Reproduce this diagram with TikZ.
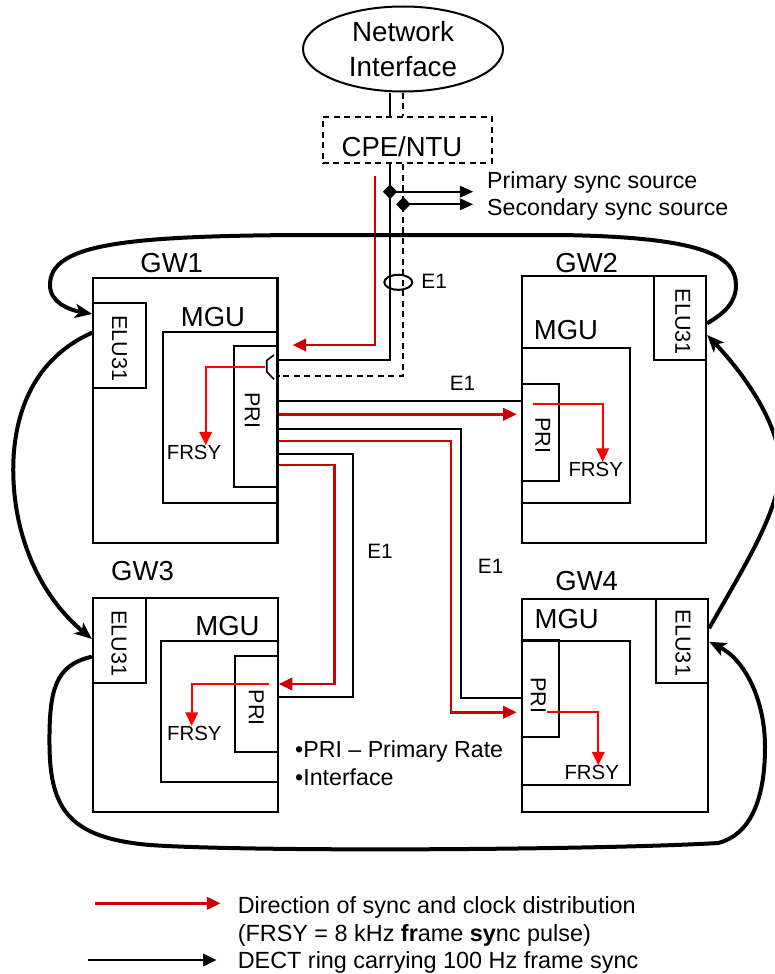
\documentclass[tikz,border=0pt]{standalone}
\usepackage{fontspec}
\setmainfont{Liberation Sans}
\usetikzlibrary{arrows.meta,shapes.geometric,fit}
\definecolor{darkred}{RGB}{204,0,0}
\definecolor{brightred}{RGB}{255,0,0}
\begin{document}
\begin{tikzpicture}[x=1pt,y=-1pt,
  box/.style={draw, line width=2.2pt, inner sep=0pt},
  lab/.style={inner sep=0pt, font=\fontsize{27.5}{35}\selectfont},
  rot/.style={inner sep=0pt, font=\fontsize{21.6}{26}\selectfont, rotate=-90},
  frsy/.style={inner sep=0pt, font=\fontsize{20.4}{24}\selectfont},
  elab/.style={inner sep=0pt, font=\fontsize{20.8}{24}\selectfont},
  note/.style={inner sep=0pt, anchor=base west, font=\fontsize{23.2}{27.6}\selectfont},
  conn/.style={line width=2pt},
  dsh/.style={dash pattern=on 6pt off 4.5pt},
  tri/.style={-{Triangle[length=13.5pt,width=12.5pt]}},
  redc/.style={line width=2.4pt, draw=darkred, tri},
  redi/.style={line width=2.2pt, draw=brightred, tri},
  ring/.style={line width=4pt, -{Stealth[length=17pt,width=14pt,inset=4pt]}},
  dmd/.style={diamond, fill=black, inner sep=0pt, minimum width=14.5pt, minimum height=15pt}
]
\useasboundingbox (0,0) rectangle (774,974);
\fill[white] (0,0) rectangle (774,974);
\clip (0,0) rectangle (774,974);

% ---------- top part ----------
\node[draw, ellipse, line width=2pt, inner sep=0pt, minimum width=200pt, minimum height=85pt,
      align=center, font=\fontsize{27.8}{35}\selectfont] (ni) at (403,49) {Network\\Interface};
\node[draw, dsh, line width=2pt, inner sep=0pt, fit={(322.7,117)(491.7,163.3)}] (cpe) {};
\node[lab] (cpetxt) at (402,146.7) {CPE/NTU};

% ---------- boxes ----------
\node[box, fit={(93.3,277.7)(277.5,543.3)}] (gw1) {};
\node[box, fit={(93.3,303.3)(145.7,387.7)}] (elu1) {};
\node[box, fit={(162.7,331.7)(277.5,503.3)}] (mgu1) {};
\node[box, fit={(234.3,345.7)(277.5,486.7)}] (pri1) {};

\node[box, fit={(521.7,275.7)(706,543.3)}] (gw2) {};
\node[box, fit={(653.7,275.7)(706,360)}] (elu2) {};
\node[box, fit={(521.7,347.7)(630,503.3)}] (mgu2) {};
\node[box, fit={(521.7,384.3)(559.3,481)}] (pri2) {};

\node[box, fit={(93,598.3)(277.7,811.7)}] (gw3) {};
\node[box, fit={(93,598.3)(146,682.7)}] (elu3) {};
\node[box, fit={(161,641)(277.7,782.3)}] (mgu3) {};
\node[box, fit={(235,656)(277.7,752.3)}] (pri3) {};

\node[box, fit={(522.3,599)(708,811.7)}] (gw4) {};
\node[box, fit={(656,599)(708,683.3)}] (elu4) {};
\node[box, fit={(522.3,640.7)(630,785)}] (mgu4) {};
\node[box, fit={(522.3,640)(559.3,736.7)}] (pri4) {};

% ---------- labels ----------
\node[lab] (gw1t) at (171.7,262.7) {GW1};
\node[lab] (mgu1t) at (213,316.7) {MGU};
\node[rot] (elu1t) at (119.5,348.3) {ELU31};
\node[rot] (pri1t) at (252.3,410) {PRI};
\node[frsy] (fr1) at (194,452.7) {FRSY};

\node[lab] (gw2t) at (586.7,262.7) {GW2};
\node[lab] (mgu2t) at (566,330) {MGU};
\node[rot] (elu2t) at (682.7,321.7) {ELU31};
\node[rot] (pri2t) at (542.7,435) {PRI};
\node[frsy] (fr2) at (595.7,469.3) {FRSY};

\node[lab] (gw3t) at (142.5,571) {GW3};
\node[lab] (mgu3t) at (227.5,626.3) {MGU};
\node[rot] (elu3t) at (119,643.3) {ELU31};
\node[rot] (pri3t) at (256.4,707.7) {PRI};
\node[frsy] (fr3) at (194.3,733.3) {FRSY};

\node[lab] (gw4t) at (586.7,581) {GW4};
\node[lab] (mgu4t) at (566.7,619) {MGU};
\node[rot] (elu4t) at (683,643) {ELU31};
\node[rot] (pri4t) at (538.3,695) {PRI};
\node[frsy] (fr4) at (591.7,772.7) {FRSY};

\node[elab] (e1a) at (434.2,281) {E1};
\node[elab] (e1b) at (462.5,383.3) {E1};
\node[elab] (e1c) at (380,551.7) {E1};
\node[elab] (e1d) at (490.7,566.7) {E1};

\node[note] (ps) at (487,188.3) {Primary sync source};
\node[note] (ss) at (487,215) {Secondary sync source};
\node[note] (n1) at (295,757.7) {•PRI – Primary Rate};
\node[note] (n2) at (295,785.7) {•Interface};

% ---------- network interface / CPE connectors ----------
\draw[conn] (ni.south -| 390,0) -- (cpe.north -| 390,0);
\draw[conn, dsh] (ni.south -| 403.3,0) -- (cpe.north -| 403.3,0);
\draw[conn] (cpe.south -| 390,0) -- (390,360) -- (pri1.east |- 0,360);
\draw[conn, dsh] (cpe.south -| 403.3,0) -- (403.3,375.7) -- (pri1.east |- 0,375.7);
\draw[line width=1.6pt] (274,355) -- (266.7,360.5) -- (266.7,371.7) -- (274,379.3);
\coordinate (rs) at (375,175.7);
\draw[redc, shorten >=14pt] (rs) |- (pri1.east |- 0,345);

\node[dmd] (d1) at (390,191.7) {};
\node[dmd] (d2) at (403.3,204.3) {};
\coordinate (p1) at (473.3,191.7);
\coordinate (p2) at (473.3,204.3);
\draw[conn, -{Triangle[length=13.5pt,width=11.5pt]}] (d1.center) -- (p1);
\draw[conn, -{Triangle[length=13.5pt,width=11.5pt]}] (d2.center) -- (p2);

\node[draw, ellipse, line width=2pt, minimum width=28pt, minimum height=15pt, inner sep=0pt] (e1r) at (398.3,282.3) {};

% ---------- E1 links ----------
\draw[conn] (pri1.east |- 0,400.7) -- (pri2.west |- 0,400.7);
\draw[redc, shorten >=4pt] (pri1.east |- 0,414.3) -- (pri2.west |- 0,414.3);
\draw[conn] (pri1.east |- 0,429) -| (461,697.7) -- (pri4.west |- 0,697.7);
\draw[redc, shorten >=4.6pt] (pri1.east |- 0,441) -| (450.7,712.3) -- (pri4.west |- 0,712.3);
\draw[conn] (pri1.east |- 0,454) -| (353.3,697.3) -- (pri3.east |- 0,697.3);
\draw[redc] (pri1.east |- 0,465) -| (334.3,684) -- (pri3.east |- 0,684);

% ---------- internal FRSY distribution ----------
\draw[redi] (265,366.7) -| (fr1.north -| 205.7,0);
\draw[redi] (533.3,404) -| (fr2.north -| 602.7,0);
\draw[redi] (269.3,684) -| (fr3.north -| 191.7,0);
\draw[redi] (546.7,712.3) -| (fr4.north -| 598.3,0);

% ---------- DECT rings ----------
\draw[ring] (elu2.east |- 0,323.3) .. controls (725,313) and (736,302) .. (736,285)
   .. controls (736,255) and (700,237) .. (560,235) -- (300,235)
   .. controls (120,236) and (50,245) .. (50,285)
   .. controls (50,303) and (70,310) .. (elu1.west |- 0,314);
\draw[ring] (elu1.west |- 0,332.7) .. controls (30,360) and (12,420) .. (13.3,475)
   .. controls (15,545) and (45,600) .. (elu3.west |- 0,639);
\draw[ring] (elu4.east |- 0,628.3) .. controls (745,565) and (780,510) .. (780,467)
   .. controls (780,425) and (745,375) .. (elu2.east |- 0,335);
\draw[ring] (elu3.west |- 0,656.7) .. controls (55,665) and (49,690) .. (49.5,745)
   .. controls (50,810) and (70,838) .. (150,845)
   .. controls (250,852) and (600,850) .. (718,843)
   .. controls (750,835) and (765,800) .. (765,747)
   .. controls (765,700) and (745,660) .. (elu4.east |- 0,641.7);

% ---------- legend ----------
\coordinate (lr1) at (95.4,903.3);
\coordinate (lr2) at (220.4,903.3);
\draw[redc] (lr1) -- (lr2);
\coordinate (lb1) at (87.7,960);
\coordinate (lb2) at (216.5,960);
\draw[line width=2.4pt, tri] (lb1) -- (lb2);
\node[note, font=\fontsize{23.4}{27.6}\selectfont] (l1) at (237.6,913.3) {Direction of sync and clock distribution};
\node[note, font=\fontsize{23.4}{27.6}\selectfont] (l2) at (237.6,941) {(FRSY = 8 kHz \textbf{fr}ame \textbf{sy}nc pulse)};
\node[note, font=\fontsize{23.4}{27.6}\selectfont] (l3) at (237.6,968.3) {DECT ring carrying 100 Hz frame sync};
\end{tikzpicture}
\end{document}
